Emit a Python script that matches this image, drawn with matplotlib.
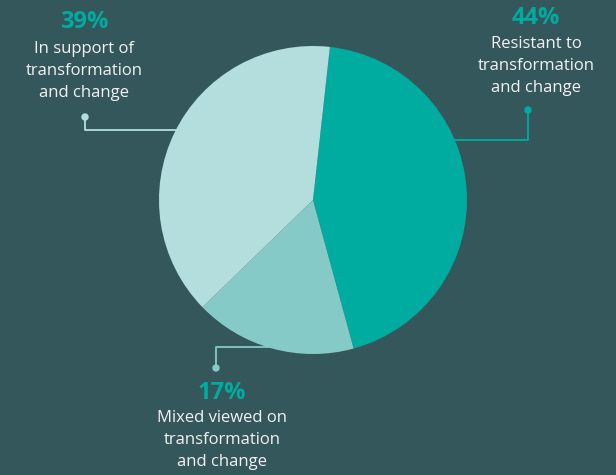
import matplotlib.pyplot as plt
from matplotlib.patches import Circle

# survey split
shares = [44, 17, 39]
pct_labels = ["44%", "17%", "39%"]
descriptions = [
    "Resistant to\ntransformation\nand change",
    "Mixed viewed on\ntransformation\nand change",
    "In support of\ntransformation\nand change",
]
colors = ["#00ab9f", "#86cac7", "#b4dedd"]

BG = "#34575c"
W, H = 616, 475

fig = plt.figure(figsize=(W / 100, H / 100), dpi=100, facecolor=BG)
ax = fig.add_axes([0, 0, 1, 1])
ax.set_facecolor(BG)

cx, cy, r = 313, H - 200, 154
wedges, _ = ax.pie(shares, colors=colors, startangle=83.7, counterclock=False,
                   center=(cx, cy), radius=r, frame=True,
                   wedgeprops=dict(linewidth=0))
for w in wedges:
    w.set_zorder(3)
ax.set_xlim(0, W)
ax.set_ylim(0, H)
ax.set_aspect("equal")
ax.axis("off")

# leader lines: (elbow y, dot x, dot y) in pixel coords from top
leaders = [(140, 528, 110), (347, 216, 368), (130, 85, 117)]
# text blocks: (x center, pct y, middle desc line y)
text_pos = [(536, 18, 66), (222, 393, 440), (84, 22, 71)]

for (ly, dx, dy), col in zip(leaders, colors):
    ax.plot([cx, dx, dx], [H - ly, H - ly, H - dy], color=col, lw=1.3, zorder=1)
    ax.add_patch(Circle((dx, H - dy), 3, color=col, zorder=2))

for (tx, py, dy), pct, desc in zip(text_pos, pct_labels, descriptions):
    ax.text(tx, H - py, pct, ha="center", va="center", color="#00ab9f",
            fontsize=17, fontweight="bold", family="Open Sans")
    ax.text(tx, H - dy, desc, ha="center", va="center", color="#f2f2f2",
            fontsize=12, family="Open Sans", linespacing=1.5)

fig.savefig("out.png", dpi=100, facecolor=BG)
